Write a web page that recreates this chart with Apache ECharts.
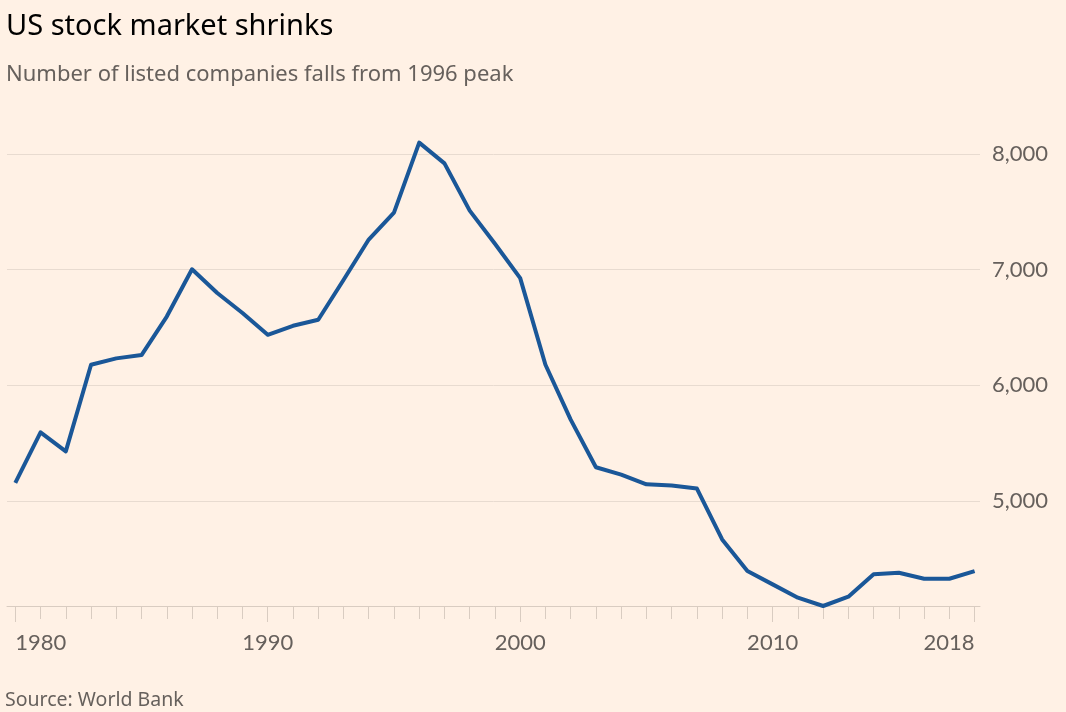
<!DOCTYPE html>
<html>
<head>
<meta charset="utf-8">
<script src="https://cdn.jsdelivr.net/npm/echarts@6/dist/echarts.min.js"></script>
<style>
html,body{margin:0;padding:0;background:#fff1e5;}
#chart{width:1066px;height:712px;}
</style>
</head>
<body>
<div id="chart"></div>
<script>
var years = ['1980','1981','1982','1983','1984','1985','1986','1987','1988','1989',
             '1990','1991','1992','1993','1994','1995','1996','1997','1998','1999',
             '2000','2001','2002','2003','2004','2005','2006','2007','2008','2009',
             '2010','2011','2012','2013','2014','2015','2016','2017','2018'];
var listedCompanies = [5155, 5592, 5428, 6177, 6232, 6261, 6594, 7003, 6798, 6625,
                       6436, 6514, 6566, 6910, 7260, 7493, 8098, 7919, 7510, 7223,
                       6926, 6177, 5702, 5290, 5227, 5143, 5132, 5106, 4666, 4392,
                       4277, 4162, 4090, 4171, 4364, 4378, 4326, 4326, 4392];
var labelYears = ['1980','1990','2000','2010','2018'];
var yMin = 4090, yMax = 8000;

var FONT = 'Lato, "Noto Sans", sans-serif';
var HFONT = '"Noto Sans", Lato, sans-serif';
var chart = echarts.init(document.getElementById('chart'));
function isLabelYear(i, v){ return labelYears.indexOf(v) >= 0; }

chart.setOption({
  backgroundColor: '#fff1e5',
  animation: false,
  title: [
    {text: 'US stock market shrinks', left: 1, top: 7,
     textStyle: {fontFamily: HFONT, fontSize: 29, fontWeight: 'normal', color: '#000000'}},
    {text: 'Number of listed companies falls from 1996 peak', left: 1, top: 59,
     textStyle: {fontFamily: HFONT, fontSize: 22, fontWeight: 'normal', color: '#66605c'}},
    {text: 'Source: World Bank', left: 0, top: 685,
     textStyle: {fontFamily: HFONT, fontSize: 19.5, fontWeight: 'normal', color: '#66605c'}}
  ],
  grid: [
    {left: 7, right: 86, top: 154, bottom: 106},
    {left: 15.3, right: 91.4, top: 154, bottom: 106}
  ],
  xAxis: [
    {type: 'value', gridIndex: 0, min: 0, max: 1,
     axisLine: {show: true, lineStyle: {color: '#d9ccc1', width: 1}},
     axisTick: {show: false}, axisLabel: {show: false}, splitLine: {show: false}},
    {type: 'category', gridIndex: 1, data: years, boundaryGap: false,
     axisLine: {show: false},
     axisTick: {show: true, interval: 0, length: 13, lineStyle: {color: '#d9ccc1'}},
     axisLabel: {show: true, interval: isLabelYear, margin: 26,
                 alignMinLabel: 'left', alignMaxLabel: 'right',
                 fontFamily: FONT, fontSize: 22, color: '#66605c'},
     splitLine: {show: false}},
    {type: 'category', gridIndex: 1, data: years, boundaryGap: false, position: 'bottom',
     axisLine: {show: false},
     axisTick: {show: true, interval: isLabelYear, length: 16, lineStyle: {color: '#d9ccc1'}},
     axisLabel: {show: false}, splitLine: {show: false}}
  ],
  yAxis: [
    {type: 'value', gridIndex: 0, position: 'right', min: yMin, max: yMax,
     axisLine: {show: false}, axisTick: {show: false},
     splitLine: {show: true, lineStyle: {color: '#e8dbd0', width: 1}},
     axisLabel: {margin: 12, align: 'left', fontFamily: FONT, fontSize: 22, color: '#66605c',
                 formatter: function(v){ return (v % 1000 === 0) ? v.toLocaleString('en-US') : ''; }}},
    {type: 'value', gridIndex: 1, min: yMin, max: yMax, show: false}
  ],
  series: [
    {type: 'line', xAxisIndex: 1, yAxisIndex: 1, data: listedCompanies,
     showSymbol: false, clip: false,
     lineStyle: {color: '#1a5798', width: 4, join: 'round'}}
  ]
});
</script>
</body>
</html>
